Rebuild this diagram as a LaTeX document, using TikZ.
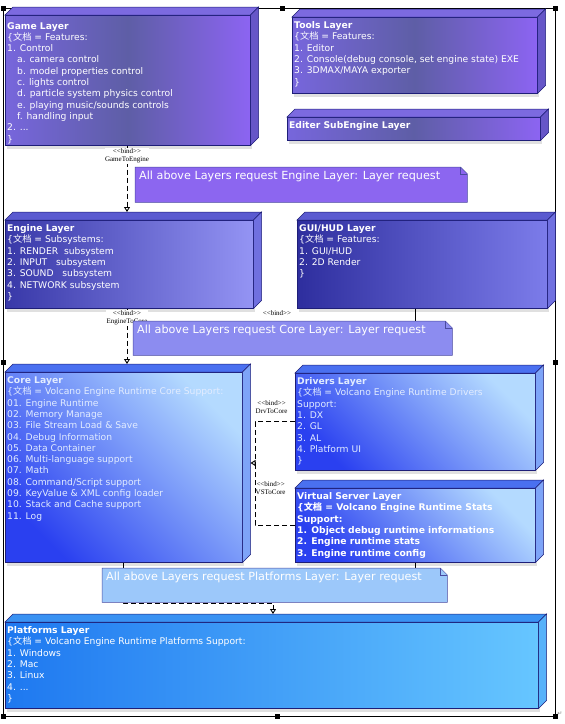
\documentclass[tikz,border=0pt]{standalone}
\usepackage{fontspec}
\setmainfont{DejaVu Sans}
\newfontfamily\cjk{Noto Sans CJK SC}
\newfontfamily\bindfont{Liberation Serif}
\usetikzlibrary{arrows.meta, positioning, shadows}
\definecolor{Edge}{HTML}{1E1E78}
\definecolor{NoteEdge}{HTML}{4A4AA0}
\definecolor{GameL}{HTML}{7766DC}
\definecolor{GameM}{HTML}{5E5EA6}
\definecolor{GameR}{HTML}{8C64F2}
\definecolor{GameTop}{HTML}{7C6AE0}
\definecolor{GameSide}{HTML}{6656C8}
\definecolor{EngL}{HTML}{3838A8}
\definecolor{EngR}{HTML}{9494F4}
\definecolor{EngTop}{HTML}{5A5AD0}
\definecolor{EngSide}{HTML}{7070E0}
\definecolor{GuiL}{HTML}{2E2E9E}
\definecolor{GuiR}{HTML}{7C7CEA}
\definecolor{CoreDark}{HTML}{2A40F0}
\definecolor{CoreLight}{HTML}{B4DAFF}
\definecolor{CoreTop}{HTML}{4A70F0}
\definecolor{CoreSide}{HTML}{7EA4F8}
\definecolor{PlatL}{HTML}{1E78F0}
\definecolor{PlatR}{HTML}{66C6FF}
\definecolor{PlatTop}{HTML}{3A92F2}
\definecolor{PlatSide}{HTML}{58B2FA}
\definecolor{NoteA}{HTML}{8C66F0}
\definecolor{NoteB}{HTML}{8C8CF0}
\definecolor{NoteC}{HTML}{9CC8FA}
\definecolor{BlueText}{HTML}{E2ECFF}

\newcommand{\docmark}{\{{\cjk 文档} = }
\newcommand{\bindtag}{\textless\textless bind\textgreater\textgreater}
% top and right faces of a layer box
\newcommand{\layerfaces}[3]{%
  \filldraw[fill=#2, draw=Edge, line width=0.5pt]
    (#1.north west) -- ++(8,-8) -- ([shift={(8,-8)}]#1.north east) -- (#1.north east) -- cycle;
  \filldraw[fill=#3, draw=Edge, line width=0.5pt]
    (#1.north east) -- ++(8,-8) -- ([shift={(8,-8)}]#1.south east) -- (#1.south east) -- cycle;
}
% note with folded corner
\newcommand{\notefold}[2]{%
  \filldraw[fill=#2, draw=NoteEdge, line width=0.5pt]
    (#1.north west) -- ([xshift=-7pt]#1.north east) -- ([yshift=-7pt]#1.north east)
    -- (#1.south east) -- (#1.south west) -- cycle;
  \draw[NoteEdge, line width=0.5pt] ([xshift=-7pt]#1.north east) |- ([yshift=-7pt]#1.north east);
}

\begin{document}
\begin{tikzpicture}[
  x=1pt, y=-1pt,
  layer/.style={
    rectangle,
    draw=Edge,
    line width=0.5pt,
    inner sep=0pt,
    anchor=north west,
    drop shadow={shadow xshift=2pt, shadow yshift=-4pt, opacity=0.12, fill=black}
  },
  layertext/.style={
    anchor=north west,
    align=left,
    font=\fontsize{9.2}{11.3}\selectfont,
    text=white,
    inner xsep=2pt,
    inner ysep=4.5pt
  },
  notebox/.style={rectangle, inner sep=0pt, anchor=north west},
  notetext/.style={
    anchor=north west,
    font=\fontsize{11.2}{12}\selectfont,
    text=white,
    inner xsep=4pt,
    inner ysep=4pt
  },
  bindlabel/.style={
    font=\bindfont\fontsize{7}{8}\selectfont,
    align=center,
    inner sep=0.5pt
  },
  bindline/.style={
    dash pattern=on 5pt off 3pt,
    line width=0.9pt,
    -{Triangle[open, length=5pt, width=6pt]}
  },
  handle/.style={fill=black}
]
\useasboundingbox (0,0) rectangle (565,724);

% Frame and handles
\draw[line width=0.6pt] (3,8) rectangle (555,716);
\foreach \hx/\hy in {3/8, 282/8, 555/8, 3/362, 555/362, 3/716, 277/716, 555/716}
  \fill[handle] (\hx-2.5,\hy-2.5) rectangle ++(5,5);
\node[font=\fontsize{6}{6}\selectfont, text=gray, inner sep=0pt] (parmark) at (560,714) {↵};

% Game layer
\node[layer, minimum width=245pt, minimum height=130pt,
  left color=GameL, right color=GameR, middle color=GameM] (game) at (5,15) {};
\layerfaces{game}{GameTop}{GameSide}
\node[layertext, yshift=-2.5pt] (gametext) at (game.north west) {\textbf{Game Layer}\\
  \docmark Features:\\
  1. Control\\
  \hspace*{10pt}a. camera control\\
  \hspace*{10pt}b. model properties control\\
  \hspace*{10pt}c. lights control\\
  \hspace*{10pt}d. particle system physics control\\
  \hspace*{10pt}e. playing music/sounds controls\\
  \hspace*{10pt}f. handling input\\
  2. ...\\
  \}};

% Tools layer
\node[layer, minimum width=245pt, minimum height=76pt,
  left color=GameL, right color=GameR, middle color=GameM] (tools) at (292,17) {};
\layerfaces{tools}{GameTop}{GameSide}
\node[layertext] (toolstext) at (tools.north west) {\textbf{Tools Layer}\\
  \docmark Features:\\
  1. Editor\\
  2. Console(debug console, set engine state) EXE\\
  3. 3DMAX/MAYA exporter\\
  \}};

% Editer layer
\node[layer, minimum width=253pt, minimum height=23pt,
  left color=GameL, right color=GameR, middle color=GameM] (editer) at (287,117) {};
\layerfaces{editer}{GameTop}{GameSide}
\node[layertext] (editertext) at (editer.north west) {\textbf{Editer SubEngine Layer}};

% Engine layer
\node[layer, minimum width=248pt, minimum height=88pt,
  left color=EngL, right color=EngR] (engine) at (5,220) {};
\layerfaces{engine}{EngTop}{EngSide}
\node[layertext] (enginetext) at (engine.north west) {\textbf{Engine Layer}\\
  \docmark Subsystems:\\
  1. RENDER\ \ subsystem\\
  2. INPUT\ \ \ subsystem\\
  3. SOUND\ \ \ subsystem\\
  4. NETWORK subsystem\\
  \}};

% GUI/HUD layer
\node[layer, minimum width=250pt, minimum height=88pt,
  left color=GuiL, right color=GuiR] (gui) at (297,220) {};
\layerfaces{gui}{EngTop}{EngSide}
\node[layertext] (guitext) at (gui.north west) {\textbf{GUI/HUD Layer}\\
  \docmark Features:\\
  1. GUI/HUD\\
  2. 2D Render\\
  \}};

% Core layer
\node[layer, minimum width=237pt, minimum height=190pt,
  bottom color=CoreDark, top color=CoreLight, shading angle=-45] (core) at (5,372) {};
\layerfaces{core}{CoreTop}{CoreSide}
\node[layertext, text=BlueText] (coretext) at (core.north west) {\textbf{Core Layer}\\
  \docmark Volcano Engine Runtime Core Support:\\
  01. Engine Runtime\\
  02. Memory Manage\\
  03. File Stream Load \& Save\\
  04. Debug Information\\
  05. Data Container\\
  06. Multi-language support\\
  07. Math\\
  08. Command/Script support\\
  09. KeyValue \& XML config loader\\
  10. Stack and Cache support\\
  11. Log};

% Drivers layer
\node[layer, minimum width=240pt, minimum height=97pt,
  bottom color=CoreDark, top color=CoreLight, shading angle=-45] (drivers) at (295,373) {};
\layerfaces{drivers}{CoreTop}{CoreSide}
\node[layertext, text=BlueText] (driverstext) at (drivers.north west) {\textbf{Drivers Layer}\\
  \docmark Volcano Engine Runtime Drivers\\
  Support:\\
  1. DX\\
  2. GL\\
  3. AL\\
  4. Platform UI\\
  \}};

% Virtual server layer
\node[layer, minimum width=240pt, minimum height=74pt,
  bottom color=CoreDark, top color=CoreLight, shading angle=-45] (vs) at (295,488) {};
\layerfaces{vs}{CoreTop}{CoreSide}
\node[layertext, font=\fontsize{9.2}{11.3}\selectfont\bfseries] (vstext) at (vs.north west) {Virtual Server Layer\\
  \docmark Volcano Engine Runtime Stats\\
  Support:\\
  1. Object debug runtime informations\\
  2. Engine runtime stats\\
  3. Engine runtime config};

% Platforms layer
\node[layer, minimum width=533pt, minimum height=86pt,
  left color=PlatL, right color=PlatR] (platforms) at (5,622) {};
\layerfaces{platforms}{PlatTop}{PlatSide}
\node[layertext] (platformstext) at (platforms.north west) {\textbf{Platforms Layer}\\
  \docmark Volcano Engine Runtime Platforms Support:\\
  1. Windows\\
  2. Mac\\
  3. Linux\\
  4. ...\\
  \}};

% Notes (outline drawn later, over the connectors)
\node[notebox, minimum width=332pt, minimum height=35pt] (note1) at (135,167) {};
\node[notebox, minimum width=319pt, minimum height=34pt] (note2) at (133,321) {};
\node[notebox, minimum width=345pt, minimum height=34pt] (note3) at (102,568) {};

% Connectors
\coordinate (colA) at (127,0);
\coordinate (colC) at (415,0);
\coordinate (drvjoin) at (255,463);
\coordinate (platbend) at (273,603);

\draw[bindline] (game.south -| colA) -- ([yshift=8pt]engine.north -| colA);
\node[bindlabel, fill=white] (gebind) at (127,156) {\bindtag\\GameToEngine};

\draw[bindline] (engine.south -| colA) -- ([yshift=8pt]core.north -| colA);
\node[bindlabel, fill=white] (ecbind) at (127,318) {\bindtag\\EngineToCore};

\draw[line width=0.9pt] (gui.south -| colC) -- (note2.north -| colC);
\node[bindlabel] (guibind) at (277,313) {\bindtag};

\draw[bindline] (drivers.west) -| (drvjoin) -- ([xshift=8pt]core.east |- drvjoin);
\draw[dash pattern=on 5pt off 3pt, line width=0.9pt] (vs.west) -| (drvjoin);
\node[bindlabel, anchor=west] (dcbind) at (255,407) {\bindtag\\DrvToCore};
\node[bindlabel, anchor=west] (vcbind) at (255,488) {\bindtag\\VSToCore};

\draw[line width=0.9pt] (vs.south -| colC) -- (note3.north -| colC);
\draw[bindline] (core.south) |- (platbend) -- ([yshift=8pt]platbend |- platforms.north);

% Note faces and texts
\notefold{note1}{NoteA}
\node[notetext] (note1text) at (note1.north west) {All above Layers request Engine Layer: Layer request};
\notefold{note2}{NoteB}
\node[notetext] (note2text) at (note2.north west) {All above Layers request Core Layer: Layer request};
\notefold{note3}{NoteC}
\node[notetext] (note3text) at (note3.north west) {All above Layers request Platforms Layer: Layer request};

\end{tikzpicture}
\end{document}
